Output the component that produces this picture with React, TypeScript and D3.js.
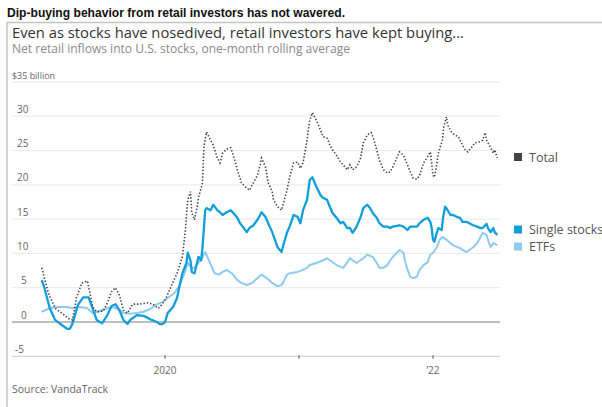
import React from "react";
import * as d3 from "d3";

// decimal-year positions and values ($ billion)
const totalDates = [2019.08,2019.13,2019.18,2019.23,2019.28,2019.31,2019.34,2019.38,2019.42,2019.44,2019.46,2019.49,2019.54,2019.57,2019.60,2019.63,2019.66,2019.69,2019.72,2019.76,2019.81,2019.87,2019.91,2019.95,2019.98,2020.01,2020.05,2020.09,2020.13,2020.15,2020.17,2020.19,2020.20,2020.22,2020.24,2020.25,2020.28,2020.29,2020.31,2020.34,2020.36,2020.39,2020.41,2020.43,2020.46,2020.49,2020.51,2020.54,2020.57,2020.60,2020.63,2020.66,2020.69,2020.71,2020.72,2020.75,2020.77,2020.80,2020.81,2020.84,2020.87,2020.89,2020.91,2020.93,2020.96,2020.99,2021.01,2021.03,2021.06,2021.08,2021.10,2021.13,2021.16,2021.18,2021.21,2021.23,2021.25,2021.28,2021.31,2021.33,2021.36,2021.38,2021.40,2021.43,2021.46,2021.48,2021.51,2021.54,2021.56,2021.58,2021.60,2021.63,2021.66,2021.68,2021.70,2021.73,2021.75,2021.78,2021.81,2021.83,2021.85,2021.88,2021.90,2021.93,2021.96,2021.98,2021.99,2022.00,2022.01,2022.03,2022.04,2022.07,2022.08,2022.10,2022.11,2022.14,2022.16,2022.19,2022.22,2022.24,2022.26,2022.29,2022.31,2022.34,2022.37,2022.39,2022.40,2022.43,2022.45,2022.46,2022.48];
const totalValues = [7.9,4.2,2.0,1.3,0.5,0.3,3.6,5.7,6.0,4.2,2.2,1.5,1.6,2.8,4.4,5.0,3.9,1.7,1.3,2.6,2.6,2.8,2.6,2.0,2.6,3.6,5.4,7.1,9.5,13.0,17.8,19.0,15.9,14.9,16.8,18.1,20.3,25.5,27.7,26.5,25.8,23.9,23.2,24.6,25.2,25.4,24.3,22.2,20.3,19.7,19.2,20.3,21.4,22.9,23.9,22.6,20.3,19.0,17.8,16.8,16.3,17.8,19.2,21.1,23.2,23.3,22.4,23.2,26.5,29.4,30.5,29.4,28.0,27.0,26.8,25.8,25.1,24.3,23.3,22.9,22.2,22.9,22.2,22.6,23.9,26.1,27.3,27.6,26.5,25.1,23.6,22.2,21.7,21.9,22.6,23.9,24.8,24.3,22.9,21.9,21.0,20.8,21.4,23.2,24.1,24.8,23.2,21.4,21.1,23.2,24.6,26.5,28.4,29.9,28.7,27.6,27.3,27.0,25.8,25.1,24.8,25.5,26.1,26.2,26.5,27.6,26.5,25.4,24.6,25.1,23.9];

const singleDates = [2019.08,2019.10,2019.14,2019.18,2019.22,2019.27,2019.29,2019.31,2019.35,2019.39,2019.43,2019.46,2019.49,2019.53,2019.57,2019.60,2019.63,2019.66,2019.69,2019.72,2019.74,2019.79,2019.84,2019.87,2019.90,2019.94,2019.96,2019.98,2020.00,2020.02,2020.06,2020.09,2020.11,2020.13,2020.16,2020.17,2020.19,2020.20,2020.22,2020.24,2020.25,2020.27,2020.28,2020.30,2020.31,2020.34,2020.36,2020.39,2020.41,2020.43,2020.46,2020.49,2020.51,2020.54,2020.56,2020.58,2020.61,2020.63,2020.66,2020.69,2020.71,2020.72,2020.75,2020.77,2020.80,2020.82,2020.84,2020.87,2020.89,2020.91,2020.93,2020.96,2020.99,2021.01,2021.03,2021.06,2021.08,2021.10,2021.13,2021.16,2021.18,2021.21,2021.23,2021.25,2021.28,2021.31,2021.33,2021.36,2021.38,2021.40,2021.43,2021.46,2021.48,2021.51,2021.53,2021.55,2021.58,2021.60,2021.63,2021.66,2021.68,2021.70,2021.73,2021.75,2021.78,2021.81,2021.83,2021.85,2021.88,2021.90,2021.93,2021.96,2021.98,2021.99,2022.00,2022.01,2022.03,2022.04,2022.065,2022.075,2022.09,2022.10,2022.13,2022.15,2022.18,2022.20,2022.22,2022.25,2022.27,2022.30,2022.33,2022.35,2022.37,2022.40,2022.41,2022.43,2022.45,2022.46,2022.48];
const singleValues = [6.1,5.0,2.0,0.3,-0.3,-1.0,-1.0,-0.2,2.5,3.6,3.6,2.0,0.3,-0.2,1.0,2.3,2.6,1.7,0.3,-0.3,0.3,1.0,0.9,0.6,0.3,0.0,-0.3,-0.3,0.0,1.3,2.2,3.5,5.4,7.1,8.6,10.1,9.0,7.3,7.1,8.7,9.5,9.0,10.9,16.3,16.6,16.3,17.1,16.3,16.0,15.6,16.0,16.3,15.9,15.2,14.4,13.9,13.1,13.7,14.1,14.9,15.6,16.0,15.3,14.4,13.1,12.0,10.9,10.2,11.7,13.0,13.9,15.6,15.3,14.4,16.3,17.8,20.7,21.1,19.7,18.5,18.1,17.8,16.8,15.9,15.2,14.4,14.6,13.7,13.7,13.0,13.9,15.3,16.6,17.1,16.6,15.9,15.2,14.4,13.9,13.9,13.7,13.9,14.0,14.1,13.9,13.4,13.9,13.9,13.9,14.4,14.9,15.2,14.6,13.7,12.0,11.7,13.1,13.7,13.4,15.2,16.8,16.6,15.6,15.6,15.3,15.2,14.6,14.6,14.4,14.1,13.9,13.7,13.7,14.3,13.7,13.1,13.7,13.1,12.7];

const etfDates = [2019.08,2019.14,2019.19,2019.27,2019.31,2019.37,2019.42,2019.46,2019.50,2019.55,2019.60,2019.65,2019.69,2019.74,2019.79,2019.84,2019.89,2019.93,2019.98,2020.02,2020.07,2020.11,2020.15,2020.17,2020.20,2020.22,2020.25,2020.28,2020.30,2020.32,2020.35,2020.37,2020.40,2020.43,2020.46,2020.50,2020.54,2020.57,2020.61,2020.65,2020.69,2020.72,2020.76,2020.80,2020.84,2020.87,2020.89,2020.91,2020.93,2020.99,2021.03,2021.06,2021.08,2021.13,2021.18,2021.21,2021.23,2021.28,2021.33,2021.36,2021.38,2021.40,2021.43,2021.48,2021.51,2021.55,2021.58,2021.60,2021.63,2021.66,2021.68,2021.70,2021.73,2021.75,2021.78,2021.79,2021.81,2021.83,2021.85,2021.88,2021.90,2021.93,2021.96,2021.98,2022.00,2022.03,2022.05,2022.07,2022.10,2022.13,2022.15,2022.18,2022.20,2022.22,2022.25,2022.27,2022.30,2022.33,2022.35,2022.37,2022.40,2022.41,2022.43,2022.45,2022.48];
const etfValues = [1.5,2.0,2.2,2.2,2.0,2.2,2.0,1.3,1.5,1.9,2.2,1.9,1.3,1.2,1.3,1.5,1.9,2.5,2.9,3.5,4.2,5.4,7.3,8.6,7.9,7.9,8.6,9.5,10.2,9.3,8.0,7.1,6.9,7.3,7.6,7.1,6.1,5.7,5.4,5.7,6.4,6.9,6.4,5.7,5.2,5.4,6.1,6.9,7.1,7.3,7.6,7.9,8.3,8.6,9.0,9.3,9.0,8.3,7.9,8.7,9.3,9.0,8.6,9.3,9.8,9.5,8.6,7.9,7.9,8.3,9.0,9.5,10.1,10.5,10.1,9.0,7.6,6.6,6.4,6.6,7.6,8.3,8.7,9.8,10.1,10.9,12.0,12.4,12.0,11.5,11.2,10.9,10.8,10.5,10.2,10.5,10.9,11.5,12.2,13.0,12.7,12.0,10.9,11.5,11.2];

const yTicks = [-5, 0, 5, 10, 15, 20, 25, 30, 35];
const xTicks = [2020, 2021, 2022];
const xTickLabels = ["2020", "", "\u201922"];
const legendItems = ["Total", "Single stocks", "ETFs"];

const COLORS = { total: "#444444", single: "#129ddb", etf: "#8fcbee" };

export default function App() {
  const x = d3.scaleLinear().domain([2020, 2022]).range([165, 433]);
  const y = d3.scaleLinear().domain([0, 30]).range([322, 116.2]);

  const line = d3
    .line<[number, number]>()
    .x((d) => x(d[0]))
    .y((d) => y(d[1]));

  const totalPts = totalDates.map((d, i) => [d, totalValues[i]] as [number, number]);
  const singlePts = singleDates.map((d, i) => [d, singleValues[i]] as [number, number]);
  const etfPts = etfDates.map((d, i) => [d, etfValues[i]] as [number, number]);

  const font = "'Open Sans', 'Noto Sans', sans-serif";
  const legendY = [157, 229.5, 246.5];
  const legendColors = [COLORS.total, COLORS.single, COLORS.etf];

  return (
    <svg
      width={602}
      height={407}
      style={{ position: "absolute", left: 0, top: 0, background: "#fff" }}
      fontFamily={font}
    >
      <rect x={0} y={0} width={602} height={407} fill="#fff" />
      <text x={7} y={16.5} fontSize={13} fontWeight="bold" fill="#111" fontFamily="'Liberation Sans', sans-serif" textLength={338} lengthAdjust="spacingAndGlyphs">
        Dip-buying behavior from retail investors has not wavered.
      </text>
      {/* frame */}
      <line x1={7} x2={602} y1={22.5} y2={22.5} stroke="#c4c4c4" strokeWidth={1.5} />
      <line x1={7} x2={7} y1={22.5} y2={407} stroke="#c4c4c4" strokeWidth={1.5} />

      <text x={12} y={37.5} fontSize={15} fill="#333" textLength={452} lengthAdjust="spacingAndGlyphs">
        Even as stocks have nosedived, retail investors have kept buying...
      </text>
      <text x={12} y={53} fontSize={12} fill="#8a8a8a" textLength={338} lengthAdjust="spacingAndGlyphs">
        Net retail inflows into U.S. stocks, one-month rolling average
      </text>

      {/* gridlines */}
      {yTicks.map((t) => (
        <g key={t}>
          <line
            x1={12}
            x2={500}
            y1={y(t)}
            y2={y(t)}
            stroke={t === 0 ? "#a8a8a8" : t === -5 ? "#d6d6d6" : "#ececec"}
            strokeWidth={t === 0 ? 1.4 : 1.2}
          />
          {t === 35 ? (
            <text x={12} y={y(t) - 3} fontSize={9} fill="#666" textLength={43} lengthAdjust="spacingAndGlyphs">
              $35 billion
            </text>
          ) : (
            <text x={t < 0 ? 15 : t < 10 ? 21 : 17} y={y(t) - 3.5} fontSize={10} fill="#666">
              {t}
            </text>
          )}
        </g>
      ))}

      {/* x ticks */}
      {xTicks.map((t, i) => (
        <g key={t}>
          <line x1={x(t)} x2={x(t)} y1={y(-5) - 1} y2={y(-5) + 2.5} stroke="#555" strokeWidth={1} />
          <text x={x(t)} y={374} fontSize={10} fill="#666" textAnchor="middle">
            {xTickLabels[i]}
          </text>
        </g>
      ))}

      {/* lines */}
      <path d={line(etfPts) || ""} fill="none" stroke={COLORS.etf} strokeWidth={2} strokeLinejoin="round" />
      <path d={line(singlePts) || ""} fill="none" stroke={COLORS.single} strokeWidth={2.3} strokeLinejoin="round" />
      <path d={line(totalPts) || ""} fill="none" stroke={COLORS.total} strokeWidth={1.6} strokeDasharray="1.4,1.9" />

      {/* legend */}
      {legendItems.map((name, i) => (
        <g key={name}>
          <rect x={514} y={legendY[i] - 4} width={8} height={8} fill={legendColors[i]} />
          <text x={529} y={legendY[i] + 4.5} fontSize={12.5} fill="#555">
            {name}
          </text>
        </g>
      ))}

      <text x={12} y={393} fontSize={11} fill="#666" textLength={96} lengthAdjust="spacingAndGlyphs">
        Source: VandaTrack
      </text>
    </svg>
  );
}
